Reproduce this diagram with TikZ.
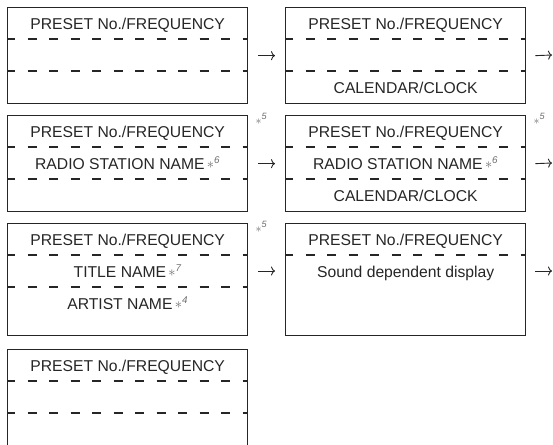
\documentclass[tikz,border=0pt]{standalone}
\usepackage{fontspec}
\setmainfont{Liberation Sans}
\usetikzlibrary{arrows.meta}
\definecolor{ink}{HTML}{262626}
\definecolor{notegray}{HTML}{6E6E6E}
\newcommand{\starnote}[1]{{\fontsize{14}{14}\selectfont\color{notegray}\,\raisebox{1pt}{$\ast^{\mathit{#1}}$}}}

\begin{document}
\begin{tikzpicture}[x=1pt,y=-1pt,
  panel/.style={draw=ink,line width=1.3pt,minimum width=240pt,minimum height=96pt,anchor=north west,inner sep=0pt},
  sep/.style={draw=ink,line width=1.1pt,dash pattern=on 9pt off 12.5pt,dash phase=1pt},
  lbl/.style={text=ink,font=\fontsize{15.7}{18}\selectfont,inner sep=0pt,anchor=base},
  note/.style={font=\fontsize{13}{13}\selectfont,text=notegray,inner sep=0pt},
  arr/.style={-{To[length=4pt,width=9pt]},draw=ink,line width=0.9pt}]
  \useasboundingbox (0,0) rectangle (553,444);
  \clip (0,0) rectangle (553,444);

  % The display panels
  \node[panel] (p1) at (7,7) {};
  \node[panel] (p2) at (285,7) {};
  \node[panel] (p3) at (7,115) {};
  \node[panel] (p4) at (285,115) {};
  \node[panel,minimum height=112pt] (p5) at (7,223) {};
  \node[panel,minimum height=112pt] (p6) at (285,223) {};
  \node[panel,minimum height=98pt] (p7) at (7,349) {};

  % Dashed dividers between the lines of each panel
  \foreach \p in {p1,p2,p3,p4,p5,p7} {
    \draw[sep] ([yshift=-32pt]\p.north west) -- ([yshift=-32pt]\p.north east);
    \draw[sep] ([yshift=-64pt]\p.north west) -- ([yshift=-64pt]\p.north east);
  }
  \draw[sep] ([yshift=-32pt]p6.north west) -- ([yshift=-32pt]p6.north east);

  % First line, the same in every panel
  \foreach \p in {p1,p2,p3,p4,p5,p6,p7}
    \node[lbl] (\p a) at ([yshift=-22.5pt]\p.north) {PRESET No./FREQUENCY};

  % Other lines
  \node[lbl] (p2c) at ([yshift=-86.5pt]p2.north) {CALENDAR/CLOCK};
  \node[lbl] (p3b) at ([yshift=-54.5pt]p3.north) {RADIO STATION NAME\starnote{6}};
  \node[lbl] (p4b) at ([yshift=-54.5pt]p4.north) {RADIO STATION NAME\starnote{6}};
  \node[lbl] (p4c) at ([yshift=-86.5pt]p4.north) {CALENDAR/CLOCK};
  \node[lbl] (p5b) at ([yshift=-54.5pt]p5.north) {TITLE NAME\starnote{7}};
  \node[lbl] (p5c) at ([yshift=-86.5pt]p5.north) {ARTIST NAME\starnote{4}};
  \node[lbl] (p6b) at ([yshift=-54.5pt]p6.north) {Sound dependent display};

  % Notes at the corners
  \node[note] (n3) at ([xshift=13pt,yshift=-4pt]p3.north east) {$\ast^{\mathit{5}}$};
  \node[note] (n4) at ([xshift=13pt,yshift=-4pt]p4.north east) {$\ast^{\mathit{5}}$};
  \node[note] (n5) at ([xshift=13pt,yshift=-4pt]p5.north east) {$\ast^{\mathit{5}}$};

  % Arrows to the next panel
  \coordinate (e2) at (552,55);
  \coordinate (e4) at (552,163);
  \coordinate (e6) at (552,271);
  \draw[arr] ([xshift=10pt]p1.east) -- ([xshift=-10pt]p2.west);
  \draw[arr] ([xshift=9pt]p2.east) -- (e2);
  \draw[arr] ([xshift=10pt]p3.east) -- ([xshift=-10pt]p4.west);
  \draw[arr] ([xshift=9pt]p4.east) -- (e4);
  \draw[arr] ([xshift=10pt,yshift=-48pt]p5.north east) -- ([xshift=-10pt,yshift=-48pt]p6.north west);
  \draw[arr] ([xshift=9pt,yshift=-48pt]p6.north east) -- (e6);
\end{tikzpicture}
\end{document}
